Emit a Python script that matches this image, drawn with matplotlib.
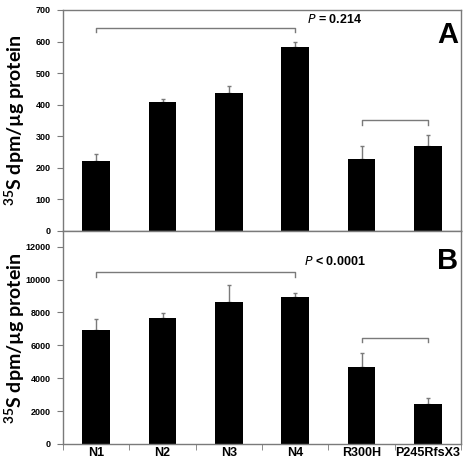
import numpy as np
import matplotlib
matplotlib.use("Agg")
import matplotlib.pyplot as plt

plt.rcParams['font.family'] = ['Liberation Sans', 'DejaVu Sans']
plt.rcParams['mathtext.default'] = 'regular'

# Dữ liệu
groups = ['N1', 'N2', 'N3', 'N4', 'R300H', 'P245RfsX3']
vals_a = [222, 407, 437, 582, 227, 268]
err_a = [21, 11, 21, 18, 41, 35]
vals_b = [6930, 7650, 8650, 8910, 4690, 2440]
err_b = [650, 330, 1020, 290, 830, 340]

ticks_a = [0, 100, 200, 300, 400, 500, 600, 700]
ticks_b = [0, 2000, 4000, 6000, 8000, 10000, 12000]

brackets_a = [(0, 3, 643), (4, 5, 350)]
brackets_b = [(0, 3, 10440), (4, 5, 6450)]

gray = '#7a7a7a'
fig = plt.figure(figsize=(4.68, 4.62), dpi=100)
left, width = 63 / 468, 398 / 468
ax_a = fig.add_axes([left, 0.5, width, 0.4784])
ax_b = fig.add_axes([left, 0.039, width, 0.461])

x = np.arange(len(groups))


def draw_panel(ax, vals, errs, yticks, ymax, brackets, dh, ptext, ptext_y, letter, letter_y):
    ax.bar(x, vals, width=0.42, color='black', zorder=2)
    ax.errorbar(x, vals, yerr=[np.zeros(len(errs)), errs], fmt='none',
                ecolor=gray, elinewidth=1, capsize=1.5, capthick=1, zorder=1)
    for x0, x1, y in brackets:
        ax.plot([x0, x0, x1, x1], [y - dh, y, y, y - dh], color=gray, lw=1)
    ax.set_xlim(-0.5, 5.5)
    ax.set_ylim(0, ymax)
    ax.set_yticks(yticks)
    ax.set_yticklabels([str(t) for t in yticks], fontsize=6.5, fontweight='bold')
    ax.tick_params(axis='y', direction='out', length=4, color=gray, pad=5)
    for s in ax.spines.values():
        s.set_color(gray)
        s.set_linewidth(1)
    ax.text(3.6, ptext_y, ptext, fontsize=9, fontweight='bold', ha='center', va='center')
    ax.text(5.3, letter_y, letter, fontsize=21, fontweight='bold', ha='center', va='center')


draw_panel(ax_a, vals_a, err_a, ticks_a, 700, brackets_a, 14,
           r'$\mathit{P}$ = 0.214', 669, 'A', 622)
draw_panel(ax_b, vals_b, err_b, ticks_b, 12950, brackets_b, 260,
           r'$\mathit{P}$ < 0.0001', 11080, 'B', 11100)

ax_a.set_xticks([])
ax_b.set_xticks(x)
ax_b.set_xticklabels(groups, fontsize=9, fontweight='bold')
ax_b.set_xticks(np.arange(-0.5, 6, 1), minor=True)
ax_b.tick_params(axis='x', which='major', length=0, pad=2)
ax_b.tick_params(axis='x', which='minor', direction='out', length=4, color=gray)

# Nhãn trục y
for yc in [1 - 120 / 462, 1 - 338 / 462]:
    fig.text(15 / 468, yc, '$^{35}$S dpm/µg protein', rotation=90, fontsize=14,
             fontweight='bold', family=['Lato', 'DejaVu Sans'], ha='center', va='center')

fig.savefig('out.png', dpi=100)
